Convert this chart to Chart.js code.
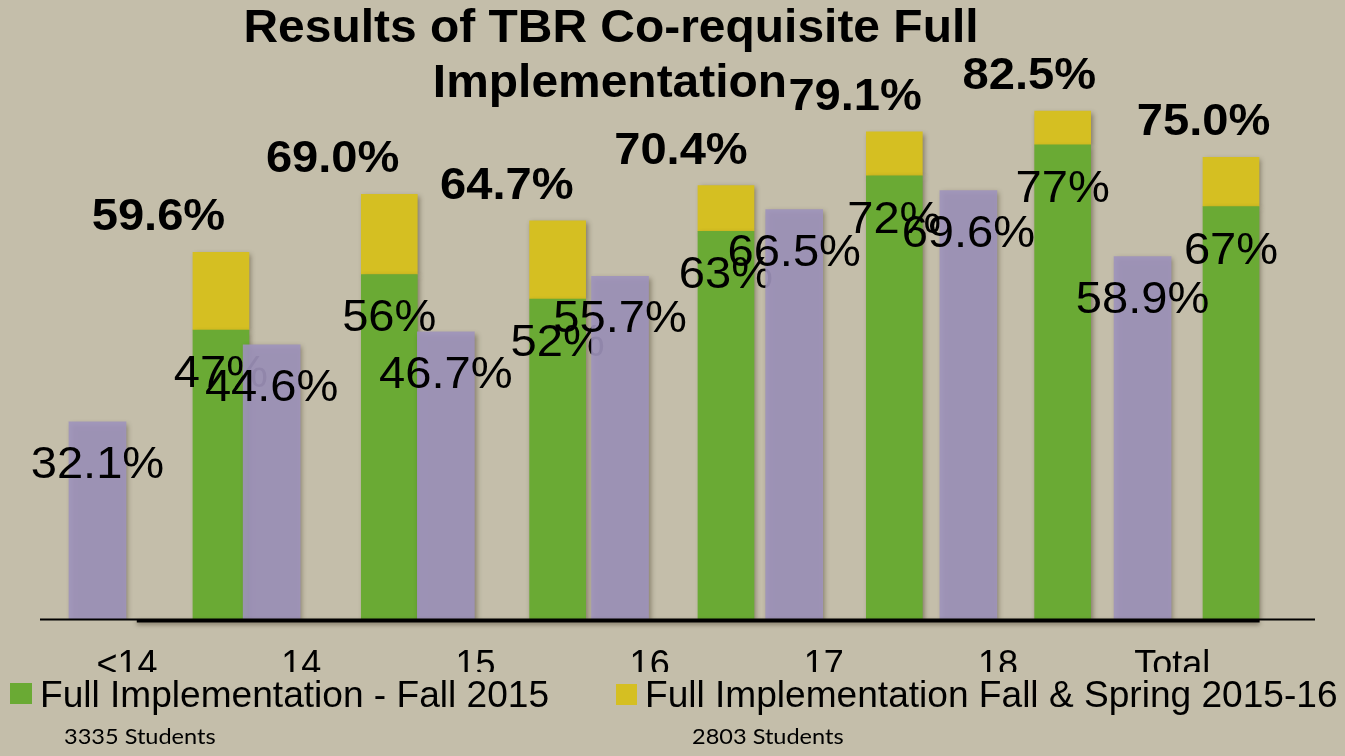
<!DOCTYPE html>
<html>
<head>
<meta charset="utf-8">
<script src="https://cdn.jsdelivr.net/npm/chart.js@4.4.1/dist/chart.umd.min.js"></script>
<style>
  html, body { margin: 0; padding: 0; background: #c4beaa; }
  #wrap { width: 1345px; height: 756px; position: relative; }
</style>
</head>
<body>
<div id="wrap"><canvas id="chart" width="1345" height="756"></canvas></div>
<script>
'use strict';
// ---- data ----
var CATS     = ['<14', '14', '15', '16', '17', '18', 'Total'];
var BASELINE = [32.1, 44.6, 46.7, 55.7, 66.5, 69.6, 58.9];   // purple bars
var FALL15   = [47, 56, 52, 63, 72, 77, 67];                 // green bars
var FULLYEAR = [59.6, 69.0, 64.7, 70.4, 79.1, 82.5, 75.0];   // top of yellow bars
var TITLE    = ['Results of TBR Co-requisite Full', 'Implementation'];
var LEGEND   = ['Full Implementation - Fall 2015', 'Full Implementation Fall & Spring 2015-16'];
var NOTES    = ['3335 Students', '2803 Students'];

var COL = { green: '#6aaa34', yellow: '#d5bf22', purple: 'rgba(159,147,188,0.9)', bg: '#c4beaa' };
var FONT = "'Liberation Sans', Arial, sans-serif";

function pts(arr) { return arr.map(function(v, i) { return { x: i, y: v }; }); }
function txt(ctx, s, x, y, font, align, sx) {
  ctx.save();
  ctx.translate(x, y);
  ctx.scale(sx || 1, 1);
  ctx.font = font;
  ctx.textAlign = align || 'center';
  ctx.textBaseline = 'alphabetic';
  ctx.fillStyle = '#000';
  ctx.fillText(s, 0, 0);
  ctx.restore();
}

var decor = {
  id: 'decor',
  beforeDraw: function(chart) {
    var ctx = chart.ctx;
    ctx.save();
    ctx.fillStyle = COL.bg;
    ctx.fillRect(0, 0, chart.width, chart.height);
    ctx.restore();
  },
  beforeDatasetDraw: function(chart) {
    var ctx = chart.ctx;
    ctx.save();
    ctx.shadowColor = 'rgba(50,40,20,0.45)';
    ctx.shadowBlur = 5;
    ctx.shadowOffsetX = 2;
    ctx.shadowOffsetY = 2;
  },
  afterDatasetDraw: function(chart, args) {
    var ctx = chart.ctx;
    ctx.restore();
    var els = args.meta.data;
    var xP = chart.scales.xP;
    els.forEach(function(el, i) {
      if (args.index === 0) {
        txt(ctx, FALL15[i] + '%', el.x, el.y + 57, '44px ' + FONT, 'center', 1.07);
      } else if (args.index === 1) {
        txt(ctx, FULLYEAR[i].toFixed(1) + '%', xP.getPixelForValue(i + 0.35), el.y - 22, 'bold 44px ' + FONT, 'center', 1.07);
      } else {
        txt(ctx, BASELINE[i].toFixed(1) + '%', el.x, el.y + 56, '44px ' + FONT, 'center', 1.07);
      }
    });
  },
  afterDatasetsDraw: function(chart) {
    var ctx = chart.ctx, a = chart.chartArea, xG = chart.scales.xG;
    ctx.save();
    ctx.fillStyle = '#000';
    ctx.fillRect(a.left, a.bottom - 1.5, a.right - a.left, 2);
    ctx.shadowColor = 'rgba(50,40,20,0.5)';
    ctx.shadowBlur = 4;
    ctx.shadowOffsetY = 2;
    var x0 = xG.getPixelForValue(-0.5), x1 = xG.getPixelForValue(6.17);
    ctx.fillRect(x0, a.bottom - 1, x1 - x0, 3.5);
    ctx.restore();
  },
  afterDraw: function(chart) {
    var ctx = chart.ctx, a = chart.chartArea, xP = chart.scales.xP;
    // title
    txt(ctx, TITLE[0], 611, 42, 'bold 47px ' + FONT, 'center', 1.02);
    txt(ctx, TITLE[1], 610, 97, 'bold 47px ' + FONT, 'center', 1.02);
    // category labels, half hidden behind the legend band
    ctx.save();
    ctx.beginPath();
    ctx.rect(0, 0, chart.width, 672);
    ctx.clip();
    CATS.forEach(function(c, i) {
      txt(ctx, c, xP.getPixelForValue(i + 0.17), a.bottom + 56, '36px ' + FONT, 'center');
    });
    ctx.restore();
    // legend
    ctx.save();
    ctx.fillStyle = COL.green;  ctx.fillRect(10, 683, 22, 21);
    ctx.fillStyle = COL.yellow; ctx.fillRect(616, 684, 21, 21);
    ctx.restore();
    txt(ctx, LEGEND[0], 40, 707, '36px ' + FONT, 'left', 1.03);
    txt(ctx, LEGEND[1], 645, 707, '36px ' + FONT, 'left', 1.03);
    // notes
    txt(ctx, NOTES[0], 64, 744, "22px Lato, 'Open Sans', sans-serif", 'left', 1.07);
    txt(ctx, NOTES[1], 692, 744, "22px Lato, 'Open Sans', sans-serif", 'left', 1.07);
  }
};

new Chart(document.getElementById('chart'), {
  type: 'bar',
  data: {
    datasets: [
      { label: LEGEND[0], xAxisID: 'xG', data: pts(FALL15), backgroundColor: COL.green,
        barThickness: 56, grouped: false, order: 1 },
      { label: LEGEND[1], xAxisID: 'xG', backgroundColor: COL.yellow, barThickness: 56, grouped: false, order: 1,
        data: FULLYEAR.map(function(v, i) { return { x: i, y: [FALL15[i], v] }; }) },
      { label: 'Before', xAxisID: 'xP', data: pts(BASELINE), backgroundColor: COL.purple,
        barThickness: 57, grouped: false, order: 0 }
    ]
  },
  options: {
    responsive: false, animation: false,
    layout: { padding: { left: 40, right: 30, top: 3, bottom: 136 } },
    plugins: { legend: { display: false }, title: { display: false }, tooltip: { enabled: false } },
    scales: {
      y:  { min: 0, max: 100, display: false },
      xP: { type: 'linear', axis: 'x', position: 'bottom', bounds: 'data', offset: false, min: -0.33, max: 6.99, display: false },
      xG: { type: 'linear', axis: 'x', position: 'bottom', bounds: 'data', offset: false, min: -1.075, max: 6.499, display: false }
    }
  },
  plugins: [decor]
});
</script>
</body>
</html>
